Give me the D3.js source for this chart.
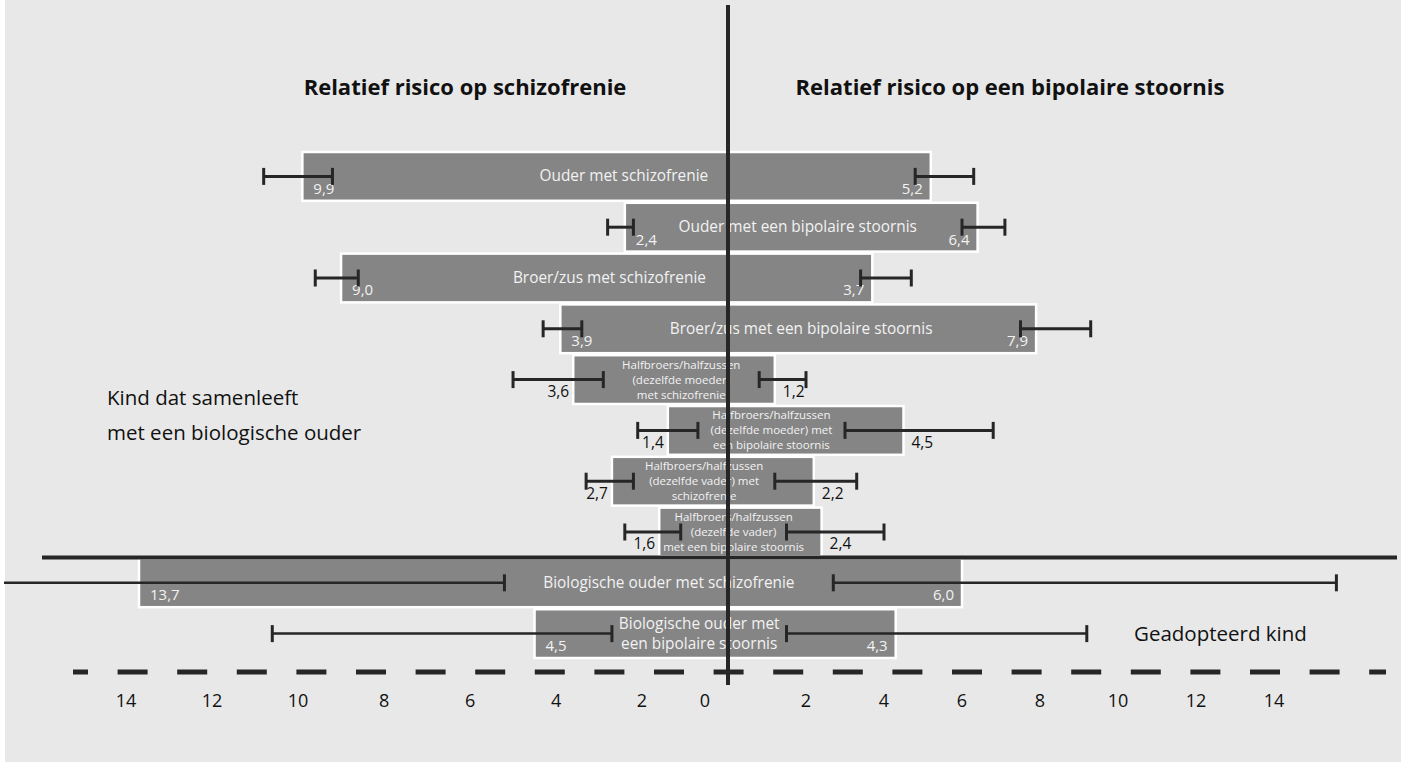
<!DOCTYPE html>
<html>
<head>
<meta charset="utf-8">
<script src="https://cdn.jsdelivr.net/npm/d3@7"></script>
<style>
  html, body { margin: 0; padding: 0; background: #ffffff; }
  svg { display: block; }
  text { font-family: "Open Sans", Lato, sans-serif; }
</style>
</head>
<body>
<script>
// ---------------- DATA ----------------
const categories = [
  ["Ouder met schizofrenie"],
  ["Ouder met een bipolaire stoornis"],
  ["Broer/zus met schizofrenie"],
  ["Broer/zus met een bipolaire stoornis"],
  ["Halfbroers/halfzussen", "(dezelfde moeder)", "met schizofrenie"],
  ["Halfbroers/halfzussen", "(dezelfde moeder) met", "een bipolaire stoornis"],
  ["Halfbroers/halfzussen", "(dezelfde vader) met", "schizofrenie"],
  ["Halfbroers/halfzussen", "(dezelfde vader)", "met een bipolaire stoornis"],
  ["Biologische ouder met schizofrenie"],
  ["Biologische ouder met", "een bipolaire stoornis"]
];
const groups = ["biologisch", "biologisch", "biologisch", "biologisch", "biologisch",
                "biologisch", "biologisch", "biologisch", "adoptie", "adoptie"];

// relative risk of schizophrenia (left) and bipolar disorder (right)
const rrSchizo      = [9.9, 2.4, 9.0, 3.9, 3.6, 1.4, 2.7, 1.6, 13.7, 4.5];
const ciSchizoLow   = [9.2, 2.2, 8.6, 3.4, 2.9, 0.7, 2.2, 1.1, 5.2, 2.7];
const ciSchizoHigh  = [10.8, 2.8, 9.6, 4.3, 5.0, 2.1, 3.3, 2.4, 17.0, 10.6];
const rrBipolar     = [5.2, 6.4, 3.7, 7.9, 1.2, 4.5, 2.2, 2.4, 6.0, 4.3];
const ciBipolarLow  = [4.8, 6.0, 3.4, 7.5, 0.8, 3.0, 1.2, 1.5, 2.7, 1.5];
const ciBipolarHigh = [6.3, 7.1, 4.7, 9.3, 2.0, 6.8, 3.3, 4.0, 15.6, 9.2];

const tickValues = [2, 4, 6, 8, 10, 12, 14];

const titleLeft = "Relatief risico op schizofrenie";
const titleRight = "Relatief risico op een bipolaire stoornis";
const groupLabelBio = ["Kind dat samenleeft", "met een biologische ouder"];
const groupLabelAdopt = "Geadopteerd kind";

// ---------------- CHART ----------------
const W = 1405, H = 763;
const svg = d3.select("body").append("svg").attr("width", W).attr("height", H);

svg.append("rect").attr("x", 5).attr("y", 0).attr("width", 1396).attr("height", 762)
  .attr("fill", "#e8e8e8");

const cx = 728;
const xL = d3.scaleLinear().domain([0, 16.84]).range([cx, 4]).clamp(true);
const xR = d3.scaleLinear().domain([0, 16]).range([cx, cx + 16 * 39]).clamp(true);
const y = d3.scaleBand().domain(d3.range(categories.length)).range([152, 658]).paddingInner(0.04);
const bw = y.bandwidth();

const fmt = d3.formatLocale({decimal: ",", thousands: ".", grouping: [3], currency: ["€", ""]}).format(".1f");

const rows = categories.map((lines, i) => ({
  i, lines, group: groups[i],
  s: rrSchizo[i], sLo: ciSchizoLow[i], sHi: ciSchizoHigh[i],
  b: rrBipolar[i], bLo: ciBipolarLow[i], bHi: ciBipolarHigh[i],
  half: lines[0].startsWith("Halfbroers")
}));

const ink = "#262626";

// bars
svg.append("g").selectAll("rect").data(rows).join("rect")
  .attr("x", d => xL(d.s))
  .attr("y", d => y(d.i))
  .attr("width", d => xR(d.b) - xL(d.s))
  .attr("height", bw)
  .attr("fill", "#858585")
  .attr("stroke", "#ffffff")
  .attr("stroke-width", 2.5);

// bar labels (centered between the inner whisker ends)
const labG = svg.append("g");
rows.forEach(d => {
  const mx = (xL(d.sLo) + xR(d.bLo)) / 2;
  const yc = y(d.i) + bw / 2;
  const n = d.lines.length;
  const fs = n === 3 ? 11.5 : 15.4;
  const lh = n === 3 ? 15 : 20;
  const t = labG.append("text")
    .attr("text-anchor", "middle")
    .attr("fill", "#f2f2f2")
    .attr("font-size", fs);
  d.lines.forEach((ln, k) => {
    t.append("tspan").attr("x", mx)
      .attr("y", yc + (n === 3 ? 4 : 5) + (k - (n - 1) / 2) * lh)
      .text(ln);
  });
});

// value labels
const valG = svg.append("g");
rows.forEach(d => {
  const yb = y(d.i) + bw - 7;
  if (d.half) {
    valG.append("text").attr("x", xL(d.s) - 4).attr("y", yb)
      .attr("text-anchor", "end").attr("font-size", 15.5).attr("fill", "#111")
      .text(fmt(d.s));
    valG.append("text").attr("x", xR(d.b) + 8).attr("y", yb)
      .attr("text-anchor", "start").attr("font-size", 15.5).attr("fill", "#111")
      .text(fmt(d.b));
  } else {
    valG.append("text").attr("x", xL(d.s) + 11).attr("y", yb)
      .attr("text-anchor", "start").attr("font-size", 15).attr("fill", "#f2f2f2")
      .text(fmt(d.s));
    valG.append("text").attr("x", xR(d.b) - 8).attr("y", yb)
      .attr("text-anchor", "end").attr("font-size", 15).attr("fill", "#f2f2f2")
      .text(fmt(d.b));
  }
});

// whiskers (confidence intervals)
const wG = svg.append("g").attr("stroke", ink).attr("fill", "none");
function whisker(scale, lo, hi, yc, sw) {
  const dmax = scale.domain()[1];
  wG.append("line").attr("x1", scale(lo)).attr("x2", scale(hi))
    .attr("y1", yc).attr("y2", yc).attr("stroke-width", sw);
  [lo, hi].forEach(v => {
    if (v <= dmax) {
      wG.append("line").attr("x1", scale(v)).attr("x2", scale(v))
        .attr("y1", yc - 8.5).attr("y2", yc + 8.5).attr("stroke-width", 3);
    }
  });
}
rows.forEach(d => {
  const yc = y(d.i) + bw / 2;
  const sw = d.group === "adoptie" ? 2.5 : 3;
  whisker(xL, d.sLo, d.sHi, yc, sw);
  whisker(xR, d.bLo, d.bHi, yc, sw);
});

// separator between groups
const lastBio = rows.filter(d => d.group === "biologisch").length - 1;
const sepY = (y(lastBio) + bw + y(lastBio + 1)) / 2;
svg.append("line").attr("x1", 42).attr("x2", 1397).attr("y1", sepY).attr("y2", sepY)
  .attr("stroke", ink).attr("stroke-width", 4);

// dashed axis
const axisY = 672;
svg.append("line").attr("x1", 73).attr("x2", 1386).attr("y1", axisY).attr("y2", axisY)
  .attr("stroke", ink).attr("stroke-width", 5)
  .attr("stroke-dasharray", "30 29.6").attr("stroke-dashoffset", 15);

// center line
svg.append("line").attr("x1", cx).attr("x2", cx).attr("y1", 5).attr("y2", 685)
  .attr("stroke", ink).attr("stroke-width", 4);

// tick labels
const tG = svg.append("g").attr("font-size", 18).attr("fill", "#111").attr("text-anchor", "middle");
tickValues.forEach(v => {
  tG.append("text").attr("x", xL(v)).attr("y", 707).text(v);
  tG.append("text").attr("x", xR(v)).attr("y", 707).text(v);
});
tG.append("text").attr("x", xL(0) - 23).attr("y", 707).text(0);

// titles
svg.append("text").attr("x", 465).attr("y", 95).attr("text-anchor", "middle")
  .attr("font-size", 22).attr("font-weight", "bold").attr("fill", "#111").text(titleLeft);
svg.append("text").attr("x", 1010).attr("y", 95).attr("text-anchor", "middle")
  .attr("font-size", 22).attr("font-weight", "bold").attr("fill", "#111").text(titleRight);

// group labels
const gl = svg.append("text").attr("font-size", 20.5).attr("fill", "#111");
groupLabelBio.forEach((ln, k) => gl.append("tspan").attr("x", 107).attr("y", 405 + k * 35).text(ln));
svg.append("text").attr("x", 1134).attr("y", 641).attr("font-size", 20.5).attr("fill", "#111")
  .text(groupLabelAdopt);
</script>
</body>
</html>
